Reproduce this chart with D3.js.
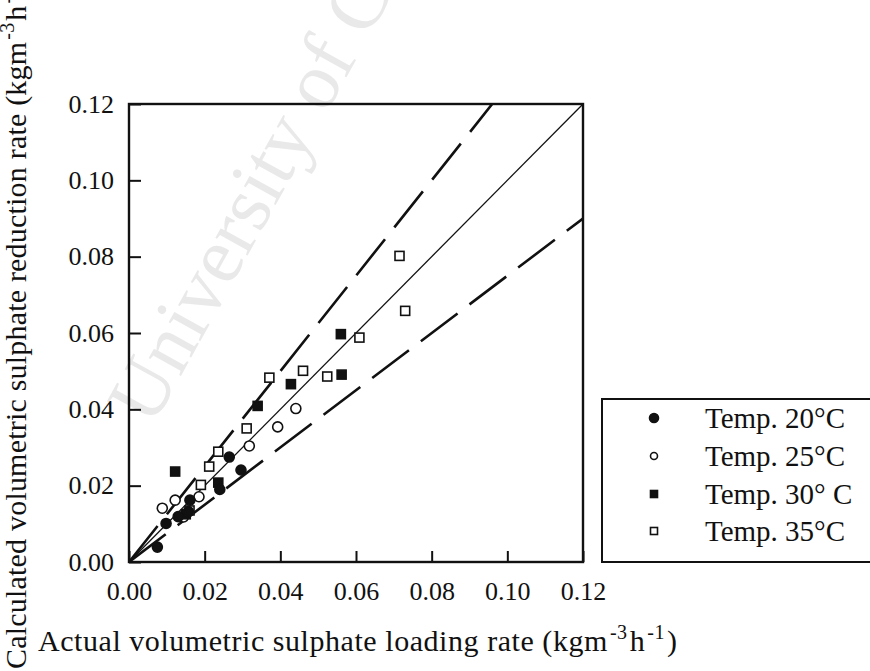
<!DOCTYPE html>
<html>
<head>
<meta charset="utf-8">
<script src="https://cdn.jsdelivr.net/npm/d3@7"></script>
<style>
  html, body { margin: 0; padding: 0; background: #fff; }
  svg { display: block; }
  text { font-family: "Liberation Serif", "Times New Roman", serif; fill: #111; }
</style>
</head>
<body>
<svg id="chart" width="870" height="671"></svg>
<script>
// ---- data ----
const xTicks = [0, 0.02, 0.04, 0.06, 0.08, 0.10, 0.12];
const yTicks = [0, 0.02, 0.04, 0.06, 0.08, 0.10, 0.12];

const temp20 = [
  [0.0075, 0.0039], [0.0098, 0.0101], [0.0130, 0.0119], [0.0157, 0.0132],
  [0.0161, 0.0162], [0.0240, 0.0190], [0.0265, 0.0275], [0.0296, 0.0241]
];
const temp25 = [
  [0.0088, 0.0141], [0.0122, 0.0162], [0.0144, 0.0118], [0.0185, 0.0171],
  [0.0318, 0.0304], [0.0393, 0.0354], [0.0441, 0.0402]
];
const temp30 = [
  [0.0122, 0.0237], [0.0150, 0.0125], [0.0236, 0.0208], [0.0340, 0.0409],
  [0.0428, 0.0466], [0.0560, 0.0597], [0.0562, 0.0491]
];
const temp35 = [
  [0.0160, 0.0135], [0.0190, 0.0202], [0.0212, 0.0250], [0.0236, 0.0289],
  [0.0311, 0.0350], [0.0371, 0.0483], [0.0460, 0.0501], [0.0524, 0.0486],
  [0.0609, 0.0588], [0.0715, 0.0802], [0.0730, 0.0658]
];
// reference lines: y = slope * x
const lineSlopes = [1.0, 1.25, 0.75];
const legendLabels = ["Temp. 20\u00B0C", "Temp. 25\u00B0C", "Temp. 30\u00B0 C", "Temp. 35\u00B0C"];

// ---- drawing ----
const svg = d3.select("#chart");
const x = d3.scaleLinear().domain([0, 0.12]).range([129, 583]);
const y = d3.scaleLinear().domain([0, 0.12]).range([562, 104]);

// faint watermark
svg.append("text")
  .attr("transform", "translate(152,428) rotate(-61)")
  .attr("font-size", 80)
  .style("fill", "#e9e9e9")
  .text("University of Cape Town");

// reference lines, clipped to plot
svg.append("clipPath").attr("id", "clip")
  .append("rect").attr("x", x(0)).attr("y", y(0.12))
  .attr("width", x(0.12) - x(0)).attr("height", y(0) - y(0.12));

const lg = svg.append("g").attr("clip-path", "url(#clip)");
lineSlopes.forEach((s, i) => {
  const xEnd = Math.min(0.12, 0.12 / s);
  lg.append("line")
    .attr("x1", x(0)).attr("y1", y(0))
    .attr("x2", x(xEnd)).attr("y2", y(s * xEnd))
    .attr("stroke", "#111")
    .attr("stroke-width", i === 0 ? 1.3 : 2.6)
    .attr("stroke-dasharray", i === 0 ? null : "46,15");
});

// axes
const fmt = d3.format(".2f");
const xAxis = d3.axisBottom(x).tickValues(xTicks).tickFormat(fmt).tickSize(-11).tickPadding(20);
const yAxis = d3.axisLeft(y).tickValues(yTicks).tickFormat(fmt).tickSize(-12).tickPadding(15);

const gx = svg.append("g").attr("transform", `translate(0,${y(0)})`).call(xAxis);
const gy = svg.append("g").attr("transform", `translate(${x(0)},0)`).call(yAxis);
[gx, gy].forEach(g => {
  g.select(".domain").remove();
  g.selectAll(".tick line").attr("stroke", "#111").attr("stroke-width", 2);
  g.selectAll(".tick text").attr("font-size", 26)
    .attr("font-family", "Liberation Serif, serif").style("fill", "#111");
});

// frame
svg.append("rect")
  .attr("x", x(0)).attr("y", y(0.12))
  .attr("width", x(0.12) - x(0)).attr("height", y(0) - y(0.12))
  .attr("fill", "none").attr("stroke", "#111").attr("stroke-width", 2.4);

// markers
function drawSeries(data, kind, g, size) {
  data.forEach(d => addMarker(g, kind, x(d[0]), y(d[1]), size));
}
function addMarker(g, kind, cx, cy, size) {
  if (kind === "fc" || kind === "oc") {
    g.append("circle").attr("cx", cx).attr("cy", cy).attr("r", size / 2)
      .attr("fill", kind === "fc" ? "#111" : "#fff")
      .attr("stroke", "#111").attr("stroke-width", 1.6);
  } else {
    g.append("rect").attr("x", cx - size / 2).attr("y", cy - size / 2)
      .attr("width", size).attr("height", size)
      .attr("fill", kind === "fs" ? "#111" : "#fff")
      .attr("stroke", "#111").attr("stroke-width", 1.6);
  }
}
const pg = svg.append("g");
drawSeries(temp35, "os", pg, 9);
drawSeries(temp25, "oc", pg, 10);
drawSeries(temp30, "fs", pg, 9);
drawSeries(temp20, "fc", pg, 10);

// legend
const kinds = ["fc", "oc", "fs", "os"];
const legY = [418, 456, 494, 531];
const leg = svg.append("g");
leg.append("rect").attr("x", 602).attr("y", 399).attr("width", 300).attr("height", 163)
  .attr("fill", "#fff").attr("stroke", "#111").attr("stroke-width", 2);
kinds.forEach((k, i) => {
  addMarker(leg, k, 654, legY[i], k === "fc" ? 9 : 7);
  leg.append("text").attr("x", 705).attr("y", legY[i]).attr("dy", "0.35em")
    .attr("font-size", 29).text(legendLabels[i]);
});

// axis titles with superscripts
function unitTitle(sel, main) {
  sel.append("tspan").text(main + " (kgm");
  sel.append("tspan").attr("dx", 2).attr("dy", -12).attr("font-size", 20).text("-3");
  sel.append("tspan").attr("dx", 2).attr("dy", 12).text("h");
  sel.append("tspan").attr("dx", 2).attr("dy", -12).attr("font-size", 20).text("-1");
  sel.append("tspan").attr("dx", 2).attr("dy", 12).text(")");
}
const xt = svg.append("text").attr("x", 38).attr("y", 651).attr("font-size", 30)
  .attr("letter-spacing", 0.55);
unitTitle(xt, "Actual volumetric sulphate loading rate");
const yt = svg.append("text").attr("transform", "translate(26,669) rotate(-90)").attr("font-size", 30)
  .attr("letter-spacing", 0.2);
unitTitle(yt, "Calculated volumetric sulphate reduction rate");
</script>
</body>
</html>
